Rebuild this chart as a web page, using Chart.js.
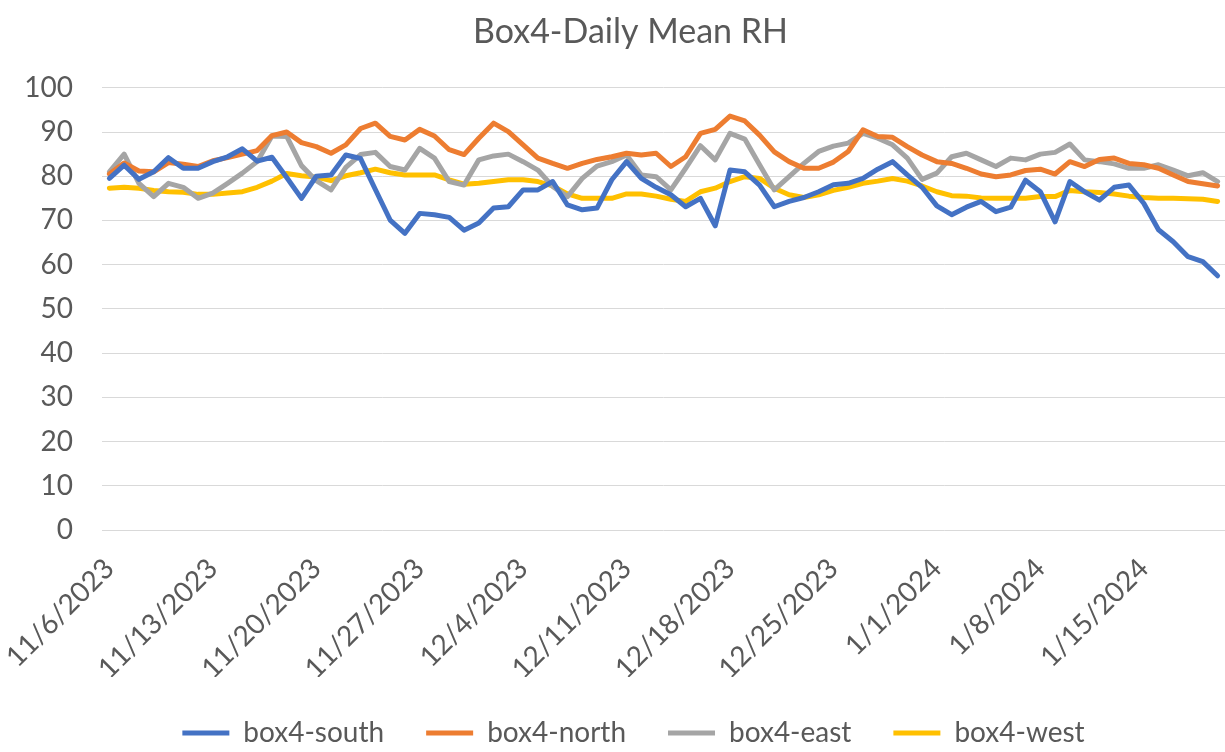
<!DOCTYPE html>
<html>
<head>
<meta charset="utf-8">
<script src="https://cdn.jsdelivr.net/npm/chart.js@4.4.1/dist/chart.umd.min.js"></script>
<style>
  body { margin: 0; background: #fff; }
  #wrap { width: 1225px; height: 752px; }
</style>
</head>
<body>
<div id="wrap"><canvas id="rhChart"></canvas></div>
<script>
// Days on the category axis
const days = [
  '11/6/2023','11/7/2023','11/8/2023','11/9/2023','11/10/2023','11/11/2023','11/12/2023',
  '11/13/2023','11/14/2023','11/15/2023','11/16/2023','11/17/2023','11/18/2023','11/19/2023',
  '11/20/2023','11/21/2023','11/22/2023','11/23/2023','11/24/2023','11/25/2023','11/26/2023',
  '11/27/2023','11/28/2023','11/29/2023','11/30/2023','12/1/2023','12/2/2023','12/3/2023',
  '12/4/2023','12/5/2023','12/6/2023','12/7/2023','12/8/2023','12/9/2023','12/10/2023',
  '12/11/2023','12/12/2023','12/13/2023','12/14/2023','12/15/2023','12/16/2023','12/17/2023',
  '12/18/2023','12/19/2023','12/20/2023','12/21/2023','12/22/2023','12/23/2023','12/24/2023',
  '12/25/2023','12/26/2023','12/27/2023','12/28/2023','12/29/2023','12/30/2023','12/31/2023',
  '1/1/2024','1/2/2024','1/3/2024','1/4/2024','1/5/2024','1/6/2024','1/7/2024',
  '1/8/2024','1/9/2024','1/10/2024','1/11/2024','1/12/2024','1/13/2024','1/14/2024',
  '1/15/2024','1/16/2024','1/17/2024','1/18/2024','1/19/2024','1/20/2024'
];

// Labels actually printed under the axis (weekly)
const tickLabels = ['11/6/2023','11/13/2023','11/20/2023','11/27/2023','12/4/2023','12/11/2023',
  '12/18/2023','12/25/2023','1/1/2024','1/8/2024','1/15/2024'];

const south = [79.5,82.5,79.3,81,84.2,81.8,81.8,83.3,84.4,86.2,83.4,84.3,79.7,75,80,80.3,84.8,84,77,70.1,
  67.1,71.6,71.3,70.7,67.8,69.4,72.8,73.1,76.9,76.9,78.8,73.5,72.4,72.8,79.2,83.3,79.5,77.5,75.8,73.1,
  75,68.8,81.4,81,78,73.1,74.3,75.2,76.5,78.1,78.4,79.5,81.6,83.3,80.3,77.5,73.3,71.3,73,74.3,
  72,73,79.1,76.5,69.7,78.8,76.5,74.6,77.5,78,73.9,67.9,65.2,61.8,60.7,57.5];

const north = [80.5,83,81.2,81,83.1,82.7,82.2,83.5,84.2,85,85.8,89.2,90,87.6,86.7,85.2,87.1,90.8,92,89,
  88.2,90.6,89.1,86,84.9,88.6,92,90.1,87.1,84.1,82.9,81.8,82.9,83.8,84.4,85.2,84.8,85.2,82.2,84.4,
  89.7,90.6,93.6,92.5,89.3,85.5,83.3,81.8,81.8,83.2,85.6,90.5,89,88.8,86.7,84.8,83.3,82.9,81.8,80.5,
  79.9,80.3,81.3,81.6,80.5,83.3,82.2,83.8,84.1,82.9,82.6,81.8,80.3,78.8,78.3,77.8];

const east = [81,85,78.4,75.4,78.4,77.5,75,76.2,78.4,80.7,83.3,89.1,89,82.4,79,76.9,82,84.9,85.4,82.2,
  81.4,86.3,84.1,78.8,78,83.7,84.6,85,83.3,81.4,77.7,75.4,79.5,82.3,83.3,84.8,80.3,79.9,76.9,81.8,
  86.9,83.7,89.7,88.4,82.6,76.9,79.9,82.9,85.6,86.8,87.5,89.7,88.6,87.1,84.1,79.3,80.7,84.4,85.2,83.7,
  82.2,84.1,83.7,85,85.4,87.3,83.7,83.3,82.8,81.8,81.8,82.6,81.4,80.1,80.8,78.8];

const west = [77.3,77.5,77.3,76.8,76.5,76.4,75.9,75.9,76.2,76.5,77.5,78.9,80.6,80.1,79.8,79,80.1,80.8,81.6,80.8,
  80.3,80.3,80.3,79.2,78.2,78.4,78.8,79.2,79.2,78.8,77.8,76,75,75,75,76,76,75.5,74.8,74.3,
  76.5,77.3,78.8,79.9,79.5,77.3,75.8,75.2,75.8,76.8,77.5,78.4,78.9,79.5,78.9,77.8,76.5,75.6,75.5,75.1,
  75,75,75,75.4,75.4,76.8,76.5,76.3,76,75.5,75.2,75,75,74.9,74.8,74.3];

const seriesNames = ['box4-south', 'box4-north', 'box4-east', 'box4-west'];
const seriesColors = ['#4472C4', '#ED7D31', '#A5A5A5', '#FFC000'];
const yTicks = [0, 10, 20, 30, 40, 50, 60, 70, 80, 90, 100];

const FONT = 'Lato';
const TEXT = '#595959';
const GRID = '#d9d9d9';

function makeSet(i, values) {
    return {
        label: seriesNames[i],
        data: values,
        borderColor: seriesColors[i],
        backgroundColor: seriesColors[i],
        borderWidth: 5,
        pointRadius: 0,
        tension: 0,
        borderJoinStyle: 'round',
        borderCapStyle: 'round'
    };
}

// Title and legend sit a little right of the canvas centre, like the original
const centreShift = {
    id: 'centreShift',
    afterLayout: function(chart) {
        chart.titleBlock.left += 18;
        chart.titleBlock.right += 18;
        chart.legend.left += 21;
        chart.legend.right += 21;
    }
};

new Chart(document.getElementById('rhChart'), {
    type: 'line',
    data: {
        labels: days,
        datasets: [makeSet(0, south), makeSet(1, north), makeSet(2, east), makeSet(3, west)]
    },
    plugins: [centreShift],
    options: {
        responsive: true,
        maintainAspectRatio: false,
        animation: false,
        layout: { padding: { left: 0, right: 0, top: 0, bottom: -5 } },
        plugins: {
            title: {
                display: true,
                text: 'Box4-Daily Mean RH',
                color: TEXT,
                font: { family: FONT, size: 34, weight: 'normal' },
                padding: { top: 12, bottom: 35 }
            },
            legend: {
                position: 'bottom',
                labels: {
                    color: TEXT,
                    font: { family: FONT, size: 28 },
                    boxWidth: 47,
                    boxHeight: 5,
                    padding: 42,
                    generateLabels: function(chart) {
                        const items = Chart.defaults.plugins.legend.labels.generateLabels(chart);
                        items.forEach(function(it) { it.lineWidth = 0; it.fillStyle = it.strokeStyle; });
                        return items;
                    }
                }
            },
            tooltip: { enabled: false }
        },
        scales: {
            x: {
                offset: true,
                grid: { display: false, drawTicks: false },
                border: { display: false },
                afterFit: function(scale) {
                    scale.height = 147;
                    scale.paddingLeft = 0;
                    scale.paddingRight = 0;
                },
                ticks: {
                    autoSkip: false,
                    maxRotation: 45,
                    minRotation: 45,
                    padding: 22,
                    color: TEXT,
                    font: { family: FONT, size: 28 },
                    callback: function(value) {
                        const d = this.getLabelForValue(value);
                        return tickLabels.includes(d) ? d : '';
                    }
                }
            },
            y: {
                min: yTicks[0],
                max: yTicks[yTicks.length - 1],
                afterBuildTicks: function(scale) {
                    scale.ticks = yTicks.map(v => ({ value: v }));
                },
                afterFit: function(scale) { scale.width = 102; },
                grid: { color: GRID, lineWidth: 1, drawTicks: false },
                border: { display: false },
                ticks: {
                    padding: 29,
                    color: TEXT,
                    font: { family: FONT, size: 28 }
                }
            }
        }
    }
});
</script>
</body>
</html>
